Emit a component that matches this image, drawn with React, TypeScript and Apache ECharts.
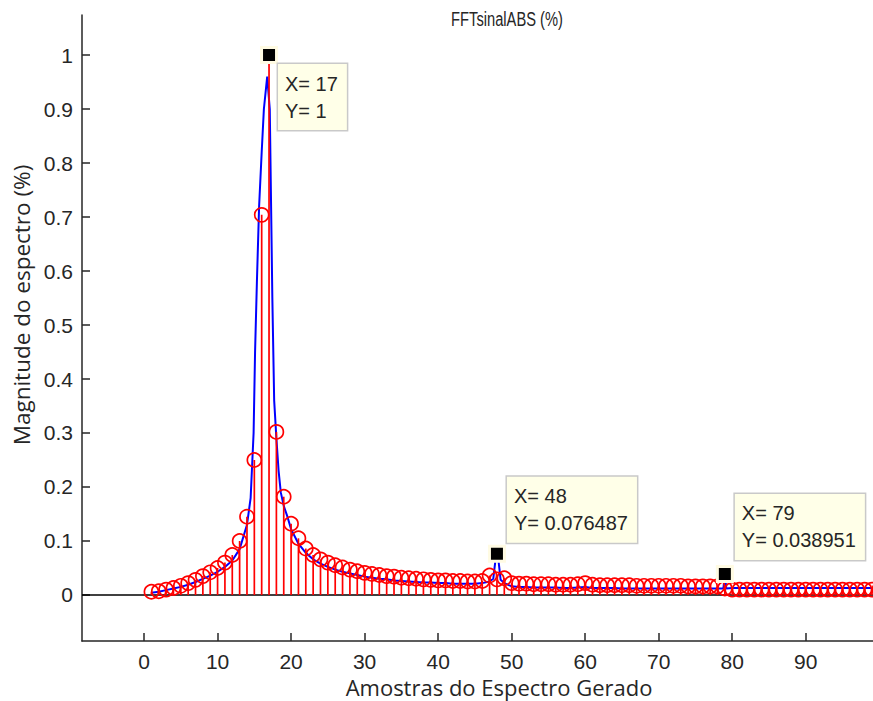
import React, { useEffect, useRef } from "react";
import * as echarts from "echarts";

// Spectrum samples drawn as stems (index 1..100)
const sampleIndex: number[] = [
  1, 2, 3, 4, 5, 6, 7, 8, 9, 10,
  11, 12, 13, 14, 15, 16, 17, 18, 19, 20,
  21, 22, 23, 24, 25, 26, 27, 28, 29, 30,
  31, 32, 33, 34, 35, 36, 37, 38, 39, 40,
  41, 42, 43, 44, 45, 46, 47, 48, 49, 50,
  51, 52, 53, 54, 55, 56, 57, 58, 59, 60,
  61, 62, 63, 64, 65, 66, 67, 68, 69, 70,
  71, 72, 73, 74, 75, 76, 77, 78, 79, 80,
  81, 82, 83, 84, 85, 86, 87, 88, 89, 90,
  91, 92, 93, 94, 95, 96, 97, 98, 99, 100,
];
const stemMagnitude: number[] = [
  0.006, 0.007, 0.010, 0.013, 0.017, 0.022, 0.028, 0.035, 0.042, 0.050,
  0.060, 0.074, 0.100, 0.145, 0.250, 0.704, 1.000, 0.302, 0.182, 0.132,
  0.105, 0.086, 0.074, 0.066, 0.060, 0.055, 0.051, 0.047, 0.044, 0.041,
  0.039, 0.037, 0.035, 0.034, 0.032, 0.031, 0.030, 0.029, 0.028, 0.027,
  0.027, 0.026, 0.026, 0.025, 0.025, 0.026, 0.036, 0.029, 0.031, 0.022,
  0.021, 0.021, 0.020, 0.020, 0.020, 0.019, 0.019, 0.019, 0.020, 0.022,
  0.019, 0.018, 0.018, 0.018, 0.018, 0.018, 0.017, 0.017, 0.017, 0.017,
  0.017, 0.017, 0.017, 0.016, 0.016, 0.016, 0.016, 0.016, 0.012, 0.010,
  0.010, 0.010, 0.010, 0.010, 0.010, 0.010, 0.010, 0.010, 0.010, 0.010,
  0.010, 0.010, 0.010, 0.010, 0.010, 0.010, 0.010, 0.010, 0.010, 0.010,
];

// Finer spectrum curve (blue)
const curveX: number[] = [
  1, 2, 3, 4, 5, 6, 7, 8, 9, 10, 11, 12, 13,
  14, 14.5, 14.9, 15.1, 15.35, 15.65, 16, 16.3, 16.75, 17.1, 17.3, 17.45, 17.7,
  18, 18.3, 18.6, 19, 19.5, 20,
  21, 22, 23, 24, 25, 26, 27, 28, 29, 30,
  31, 32, 33, 34, 35, 36, 37, 38, 39, 40,
  41, 42, 43, 44, 45, 46, 47, 47.5, 47.8, 48, 48.2, 48.5, 49,
  50, 51, 52, 53, 54, 55, 56, 57, 58, 59, 60,
  61, 62, 63, 64, 65, 66, 67, 68, 69, 70,
  71, 72, 73, 74, 75, 76, 77, 78, 78.8, 79, 79.2,
  80, 81, 82, 83, 84, 85, 86, 87, 88, 89, 90,
  91, 92, 93, 94, 95, 96, 97, 98, 99, 100,
];
const curveY: number[] = [
  0.004, 0.006, 0.009, 0.012, 0.015, 0.019, 0.024, 0.030, 0.036, 0.043, 0.052, 0.064, 0.085,
  0.130, 0.180, 0.300, 0.450, 0.580, 0.720, 0.820, 0.900, 0.960, 0.900, 0.700, 0.550, 0.360,
  0.290, 0.230, 0.190, 0.165, 0.145, 0.122,
  0.095, 0.078, 0.066, 0.058, 0.052, 0.047, 0.043, 0.040, 0.037, 0.034,
  0.032, 0.030, 0.029, 0.027, 0.026, 0.025, 0.024, 0.023, 0.023, 0.022,
  0.022, 0.021, 0.021, 0.021, 0.021, 0.022, 0.025, 0.030, 0.065, 0.0765, 0.065, 0.028, 0.022,
  0.016, 0.015, 0.015, 0.014, 0.014, 0.014, 0.014, 0.013, 0.013, 0.014, 0.015,
  0.013, 0.013, 0.013, 0.013, 0.012, 0.012, 0.012, 0.012, 0.012, 0.012,
  0.012, 0.012, 0.012, 0.012, 0.012, 0.012, 0.012, 0.012, 0.012, 0.039, 0.012,
  0.013, 0.013, 0.013, 0.013, 0.013, 0.013, 0.013, 0.013, 0.013, 0.013, 0.013,
  0.013, 0.013, 0.013, 0.013, 0.013, 0.013, 0.013, 0.013, 0.013, 0.013,
];

// Data tips
const tipX: number[] = [17, 48, 79];
const tipY: number[] = [1, 0.076487, 0.038951];

// Tick labels
const xTicks: number[] = [0, 10, 20, 30, 40, 50, 60, 70, 80, 90];
const yTicks: number[] = [0, 0.1, 0.2, 0.3, 0.4, 0.5, 0.6, 0.7, 0.8, 0.9, 1];

const titleText = "FFTsinalABS (%)";
const xName = "Amostras do Espectro Gerado";
const yName = "Magnitude do espectro (%)";

const AXIS_COLOR = "#262626";
const TICK_FONT = "'Liberation Sans', Arial, sans-serif";
const NAME_FONT = "'Open Sans', 'Noto Sans', sans-serif";

export default function App() {
  const ref = useRef<HTMLDivElement>(null);

  useEffect(() => {
    if (!ref.current) return;
    const chart = echarts.init(ref.current, undefined, { renderer: "svg" });

    const stems = sampleIndex.map((x, i) => [x, stemMagnitude[i]]);
    const curve = curveX.map((x, i) => [x, curveY[i]]);
    const tipLabelPos: number[][] = [
      [18, 18],
      [19, -68],
      [19, -71],
    ];
    const tips = tipX.map((x, i) => ({
      value: [x, tipY[i]],
      label: { position: tipLabelPos[i] },
    }));

    chart.setOption({
      animation: false,
      backgroundColor: "#ffffff",
      grid: { left: 82, top: 15, right: 0, bottom: 60, containLabel: false },
      xAxis: {
        type: "value",
        min: -8.44,
        max: 99.15,
        axisLine: { show: true, onZero: false, lineStyle: { color: AXIS_COLOR, width: 1.5 } },
        axisTick: {
          show: true,
          inside: true,
          length: 8,
          customValues: xTicks,
          lineStyle: { color: AXIS_COLOR, width: 1.5 },
        },
        axisLabel: {
          customValues: xTicks,
          color: AXIS_COLOR,
          fontFamily: TICK_FONT,
          fontSize: 21,
          margin: 10,
          formatter: (v: number) => String(v),
        },
        splitLine: { show: false },
      },
      yAxis: {
        type: "value",
        min: -0.0852,
        max: 1.0741,
        axisLine: { show: true, onZero: false, lineStyle: { color: AXIS_COLOR, width: 1.5 } },
        axisTick: {
          show: true,
          inside: true,
          length: 8,
          customValues: yTicks,
          lineStyle: { color: AXIS_COLOR, width: 1.5 },
        },
        axisLabel: {
          customValues: yTicks,
          color: AXIS_COLOR,
          fontFamily: TICK_FONT,
          fontSize: 21,
          margin: 9,
          formatter: (v: number) => String(v),
        },
        splitLine: { show: false },
      },
      graphic: [
        {
          type: "text",
          x: 507,
          y: 19,
          scaleX: 0.7,
          style: {
            text: titleText,
            fill: AXIS_COLOR,
            font: `21px ${TICK_FONT}`,
            align: "center",
            verticalAlign: "middle",
          },
        },
        {
          type: "text",
          x: 499,
          y: 687,
          style: {
            text: xName,
            fill: AXIS_COLOR,
            font: `22px ${NAME_FONT}`,
            lineHeight: 22,
            align: "center",
            verticalAlign: "middle",
          },
        },
        {
          type: "text",
          x: 21,
          y: 305,
          rotation: Math.PI / 2,
          style: {
            text: yName,
            fill: AXIS_COLOR,
            font: `22.5px ${NAME_FONT}`,
            align: "center",
            verticalAlign: "middle",
          },
        },
      ],
      series: [
        {
          type: "line",
          data: curve,
          showSymbol: false,
          symbol: "none",
          lineStyle: { color: "#0000ff", width: 2 },
          z: 2,
        },
        {
          type: "custom",
          data: stems,
          clip: true,
          z: 3,
          encode: { x: 0, y: 1 },
          renderItem: (_params: any, api: any) => {
            const x = api.value(0);
            const y = api.value(1);
            const base = api.coord([x, 0]);
            const top = api.coord([x, y]);
            return {
              type: "group",
              children: [
                {
                  type: "line",
                  shape: { x1: base[0], y1: base[1], x2: top[0], y2: top[1] },
                  style: { stroke: "#ff0000", lineWidth: 1.7 },
                },
                {
                  type: "circle",
                  shape: { cx: top[0], cy: top[1], r: 7 },
                  style: { fill: "none", stroke: "#ff0000", lineWidth: 1.7 },
                },
              ],
            };
          },
          markLine: {
            silent: true,
            symbol: "none",
            label: { show: false },
            lineStyle: { color: "#000000", width: 1.5, type: "solid" },
            data: [{ yAxis: 0 }],
            z: 1,
          },
        },
        {
          type: "scatter",
          data: tips,
          symbol: "rect",
          symbolSize: 15,
          z: 10,
          itemStyle: { color: "#000000", borderColor: "#fffbe3", borderWidth: 3, opacity: 1 },
          label: {
            show: true,
            formatter: (p: any) => `X= ${p.value[0]}\nY= ${p.value[1]}`,
            color: AXIS_COLOR,
            fontFamily: TICK_FONT,
            fontSize: 20,
            lineHeight: 27,
            backgroundColor: "#ffffe8",
            borderColor: "#c9c9c9",
            borderWidth: 1.5,
            padding: [6, 9, 6, 7],
            align: "left",
            verticalAlign: "top",
          },
        },
      ],
    });

    return () => chart.dispose();
  }, []);

  return (
    <div
      ref={ref}
      style={{ position: "fixed", left: 0, top: 0, width: 873, height: 701, background: "#fff" }}
    />
  );
}
